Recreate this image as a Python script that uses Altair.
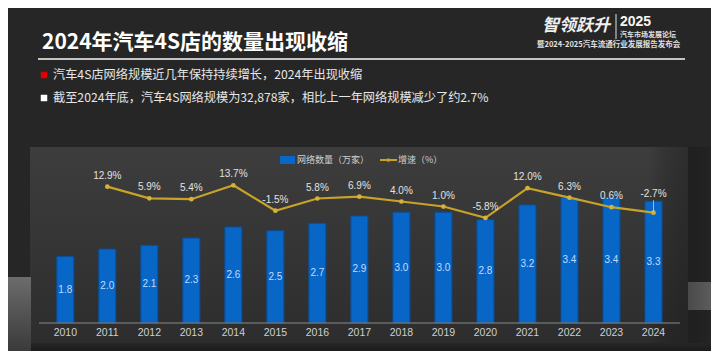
import altair as alt
import pandas as pd

# ---------------- data ----------------
years = [2010, 2011, 2012, 2013, 2014, 2015, 2016, 2017, 2018, 2019, 2020, 2021, 2022, 2023, 2024]
network_count = [1.8, 2.0, 2.1, 2.3, 2.6, 2.5, 2.7, 2.9, 3.0, 3.0, 2.8, 3.2, 3.4, 3.4, 3.3]
growth_rate = [None, 12.9, 5.9, 5.4, 13.7, -1.5, 5.8, 6.9, 4.0, 1.0, -5.8, 12.0, 6.3, 0.6, -2.7]

title_text = "2024年汽车4S店的数量出现收缩"
bullet_texts = [
    "汽车4S店网络规模近几年保持持续增长，2024年出现收缩",
    "截至2024年底，汽车4S网络规模为32,878家，相比上一年网络规模减少了约2.7%",
]
legend_labels = ["网络数量（万家）", "增速（%）"]
logo_texts = ["智领跃升", "2025", "汽车市场发展论坛", "暨2024-2025汽车流通行业发展报告发布会"]

df = pd.DataFrame({"year": years, "count": network_count, "growth": growth_rate})
df["count_label"] = df["count"].map(lambda v: f"{v:.1f}")
df["half"] = df["count"] / 2
df["growth_label"] = df["growth"].map(lambda v: "" if pd.isna(v) else f"{v:.1f}%")
line_df = df.dropna(subset=["growth"])

CJK = "Noto Sans CJK SC"
NUM = "Liberation Sans"
BLUE = "#0866c6"
GOLD = "#c9a228"

x_scale = alt.Scale(domain=[2010, 2024], range=[52.3, 650.5])
ybar_scale = alt.Scale(domain=[0, 4], range=[314.7, 167.5])
yline_scale = alt.Scale(domain=[-10, 15], range=[216.9, 175.15])

one = alt.Data(values=[{"k": 0}])


def grad(c0, c1, horizontal=False):
    return alt.LinearGradient(
        gradient="linear",
        stops=[alt.GradientStop(color=c0, offset=0), alt.GradientStop(color=c1, offset=1)],
        x1=0, y1=0, x2=1 if horizontal else 0, y2=0 if horizontal else 1,
    )


def rect(x, x2, y, y2, fill):
    return alt.Chart(one).mark_rect(color=fill).encode(
        x=alt.value(x), x2=alt.value(x2), y=alt.value(y), y2=alt.value(y2))


def label(txt, x, y, size, color, weight="normal", font=CJK, align="left", style="normal"):
    return alt.Chart(one).mark_text(
        align=align, baseline="middle", fontSize=size, color=color,
        fontWeight=weight, font=font, fontStyle=style,
    ).encode(x=alt.value(x), y=alt.value(y), text=alt.value(txt))


# ---------------- decoration ----------------
bg_bottom = rect(0, 703, 335, 343, grad("#262626", "#1b1b1b"))
panel = rect(22, 680, 139, 335, grad("#3d3d3d", "#2d2d2d"))
panel_side = rect(640, 703, 139, 335, grad("#00000000", "#22222299", horizontal=True))
left_block = rect(0, 23, 269, 343, grad("#6c6c6c", "#3a3a3a"))
right_band = rect(680, 703, 274, 302, grad("#4a4a4a", "#5c5c5c", horizontal=True))

title = label(title_text, 34, 35, 21, "#ffffff", weight="bold")
title_rule = alt.Chart(one).mark_rule(color="#c4c4c4", strokeWidth=2).encode(
    x=alt.value(30), x2=alt.value(677), y=alt.value(51))

bullet1_sq = alt.Chart(one).mark_square(size=42, color="#e00000", opacity=1).encode(
    x=alt.value(36), y=alt.value(67))
bullet2_sq = alt.Chart(one).mark_square(size=42, color="#ffffff", opacity=1).encode(
    x=alt.value(36), y=alt.value(90))
bullet1 = label(bullet_texts[0], 45, 67, 12.2, "#e6e6e6")
bullet2 = label(bullet_texts[1], 45, 90, 12.2, "#e6e6e6")

logo1 = label(logo_texts[0], 534, 18, 17, "#f0f0f0", weight="bold", style="italic")
logo_bar = alt.Chart(one).mark_rule(color="#e0e0e0", strokeWidth=1).encode(
    x=alt.value(608), y=alt.value(6), y2=alt.value(31))
logo2 = label(logo_texts[1], 612, 14, 14, "#f5f5f5", weight="bold", font=NUM)
logo3 = label(logo_texts[2], 612, 27, 7, "#e0e0e0", weight="bold")
logo4 = label(logo_texts[3], 529, 37, 7.5, "#e0e0e0", weight="bold")

# legend
leg_rect = rect(272, 287, 148, 156, BLUE)
leg_txt1 = label(legend_labels[0], 289, 152, 9, "#d0d0d0")
leg_line = alt.Chart(one).mark_rule(color=GOLD, strokeWidth=2).encode(
    x=alt.value(372), x2=alt.value(389), y=alt.value(152))
leg_dot = alt.Chart(one).mark_circle(size=14, color=GOLD, opacity=1).encode(
    x=alt.value(380.5), y=alt.value(152))
leg_txt2 = label(legend_labels[1], 390, 152, 9, "#d0d0d0")

# ---------------- data marks ----------------
base = alt.Chart(df)
xenc = alt.X("year:Q", scale=x_scale, axis=None)

baseline = alt.Chart(one).mark_rule(color="#8a8a8a", strokeWidth=1).encode(
    x=alt.value(31), x2=alt.value(672), y=alt.value(315))

bars = base.mark_bar(size=17, color=BLUE, stroke="#0a4f99", strokeWidth=1).encode(
    x=xenc, y=alt.Y("count:Q", scale=ybar_scale, axis=None))

bar_labels = base.mark_text(fontSize=10, color="#bfdcff", font=NUM, baseline="middle").encode(
    x=xenc, y=alt.Y("half:Q", scale=ybar_scale, axis=None), text="count_label:N")

year_labels = base.mark_text(fontSize=10.5, color="#cfcfcf", font=NUM, baseline="middle").encode(
    x=xenc, y=alt.value(325), text=alt.Text("year:N"))

lbase = alt.Chart(line_df)
line = lbase.mark_line(color=GOLD, strokeWidth=2.2).encode(
    x=xenc, y=alt.Y("growth:Q", scale=yline_scale, axis=None))
points = lbase.mark_circle(size=22, color="#d6b23c", opacity=1).encode(
    x=xenc, y=alt.Y("growth:Q", scale=yline_scale, axis=None))

growth_labels = lbase.transform_filter("datum.year < 2024").mark_text(
    fontSize=10, color="#e2e2e2", font=NUM, dy=-11, baseline="middle").encode(
    x=xenc, y=alt.Y("growth:Q", scale=yline_scale, axis=None), text="growth_label:N")
last_label = lbase.transform_filter("datum.year == 2024").mark_text(
    fontSize=10, color="#e2e2e2", font=NUM, dy=-19, baseline="middle").encode(
    x=xenc, y=alt.Y("growth:Q", scale=yline_scale, axis=None), text="growth_label:N")
last_tick = lbase.transform_filter("datum.year == 2024").mark_tick(
    orient="vertical", size=11, thickness=1, color="#e0e0e0", yOffset=-7).encode(
    x=xenc, y=alt.Y("growth:Q", scale=yline_scale, axis=None))

chart = alt.layer(
    bg_bottom, panel, panel_side, left_block, right_band,
    title, title_rule, bullet1_sq, bullet2_sq, bullet1, bullet2,
    logo1, logo_bar, logo2, logo3, logo4,
    leg_rect, leg_txt1, leg_line, leg_dot, leg_txt2,
    bars, baseline, bar_labels, year_labels,
    line, points, growth_labels, last_label, last_tick,
).resolve_scale(y="independent").properties(
    width=703, height=343,
    autosize=alt.AutoSizeParams(type="none"),
    padding=0,
    background="#262626",
).configure_view(strokeWidth=0)

chart.save("out.html", embed_options={"renderer": "svg", "actions": False})
